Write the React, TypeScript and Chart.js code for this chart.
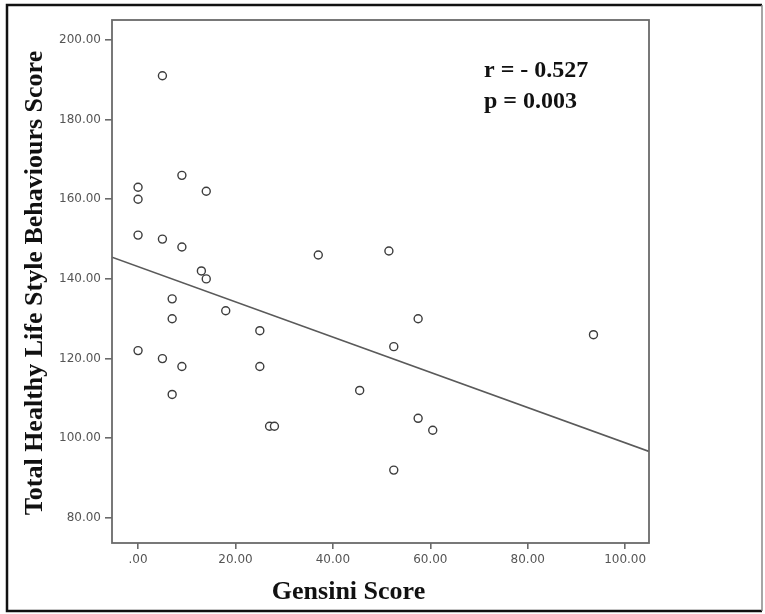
import React, { useEffect, useRef } from "react";
import { Chart, registerables } from "chart.js";

Chart.register(...registerables);

const gensiniScores = [5, 0, 0, 9, 14, 0, 5, 9, 13, 14, 7, 7, 18, 37, 51.5, 57.5, 0, 5, 9, 25, 25, 52.5, 7, 45.5, 27, 28, 57.5, 60.5, 52.5, 93.5];
const lifestyleScores = [191, 163, 160, 166, 162, 151, 150, 148, 142, 140, 135, 130, 132, 146, 147, 130, 122, 120, 118, 127, 118, 123, 111, 112, 103, 103, 105, 102, 92, 126];
const xTicks = [0, 20, 40, 60, 80, 100];
const yTicks = [80, 100, 120, 140, 160, 180, 200];
const xRange = [-5.35, 104.9];
const yRange = [73.7, 205];
const fitIntercept = 143.1;
const fitSlope = -0.4425;
const statLines = ["r = - 0.527", "p = 0.003"];
const xTitle = "Gensini Score";
const yTitle = "Total Healthy Life Style Behaviours Score";

const fmt = (v: number) => (v === 0 ? ".00" : v.toFixed(2));

const decorPlugin = {
  id: "decor",
  afterDraw(chart: any) {
    const { ctx, chartArea } = chart;
    ctx.save();
    // plot box
    ctx.strokeStyle = "#6a6a6a";
    ctx.lineWidth = 1.8;
    ctx.strokeRect(chartArea.left, chartArea.top, chartArea.right - chartArea.left, chartArea.bottom - chartArea.top);
    // outer frame
    ctx.strokeStyle = "#111";
    ctx.lineWidth = 2.5;
    ctx.beginPath();
    ctx.moveTo(762, 5);
    ctx.lineTo(7, 5);
    ctx.lineTo(7, 611);
    ctx.lineTo(762, 611);
    ctx.stroke();
    ctx.strokeStyle = "#888";
    ctx.lineWidth = 1.5;
    ctx.beginPath();
    ctx.moveTo(762, 5);
    ctx.lineTo(762, 611);
    ctx.stroke();
    // titles
    ctx.fillStyle = "#111";
    ctx.font = "bold 26px 'Liberation Serif', 'Times New Roman', serif";
    ctx.textAlign = "center";
    ctx.textBaseline = "middle";
    ctx.fillText(xTitle, (chartArea.left + chartArea.right) / 2 - 32, 592);
    ctx.save();
    ctx.translate(35, 283);
    ctx.rotate(-Math.PI / 2);
    ctx.fillText(yTitle, 0, 0);
    ctx.restore();
    // stats
    ctx.font = "bold 24px 'Liberation Serif', 'Times New Roman', serif";
    ctx.textAlign = "left";
    ctx.fillText(statLines[0], 484, 71);
    ctx.fillText(statLines[1], 484, 102);
    ctx.restore();
  },
};

export default function App() {
  const ref = useRef<HTMLCanvasElement | null>(null);
  useEffect(() => {
    document.body.style.margin = "0";
    const canvas = ref.current!;
    const points = gensiniScores.map((x, i) => ({ x, y: lifestyleScores[i] }));
    const fit = [xRange[0], xRange[1]].map((x) => ({ x, y: fitIntercept + fitSlope * x }));
    const tickFont = { family: "'DejaVu Sans', sans-serif", size: 12 };
    const chart = new Chart(canvas, {
      type: "scatter",
      data: {
        datasets: [
          {
            type: "line",
            data: fit,
            borderColor: "#5a5a5a",
            borderWidth: 1.6,
            pointRadius: 0,
            fill: false,
            order: 2,
          } as any,
          {
            data: points,
            pointRadius: 4,
            pointBorderWidth: 1.4,
            borderColor: "#3c3c3c",
            backgroundColor: "#ffffff",
            order: 1,
          },
        ],
      },
      options: {
        responsive: false,
        animation: false,
        layout: { padding: { top: 20, right: 116, left: 0, bottom: 0 } },
        plugins: { legend: { display: false }, tooltip: { enabled: false } },
        scales: {
          x: {
            type: "linear",
            min: xRange[0],
            max: xRange[1],
            afterBuildTicks: (s: any) => {
              s.ticks = xTicks.map((v) => ({ value: v }));
            },
            afterFit: (s: any) => {
              s.height = 71;
            },
            grid: { drawOnChartArea: false, drawTicks: true, tickLength: 6, color: "#6a6a6a", lineWidth: 1.6 },
            border: { display: false },
            ticks: { callback: (v: any) => fmt(Number(v)), font: tickFont, color: "#555", padding: 4, maxRotation: 0 },
          },
          y: {
            type: "linear",
            min: yRange[0],
            max: yRange[1],
            afterBuildTicks: (s: any) => {
              s.ticks = yTicks.map((v) => ({ value: v }));
            },
            afterFit: (s: any) => {
              s.width = 112;
            },
            grid: { drawOnChartArea: false, drawTicks: true, tickLength: 7, color: "#6a6a6a", lineWidth: 1.6 },
            border: { display: false },
            ticks: { callback: (v: any) => fmt(Number(v)), font: tickFont, color: "#555", padding: 4 },
          },
        },
      },
      plugins: [decorPlugin],
    });
    return () => chart.destroy();
  }, []);
  return <canvas ref={ref} width={765} height={614} style={{ display: "block" }} />;
}
